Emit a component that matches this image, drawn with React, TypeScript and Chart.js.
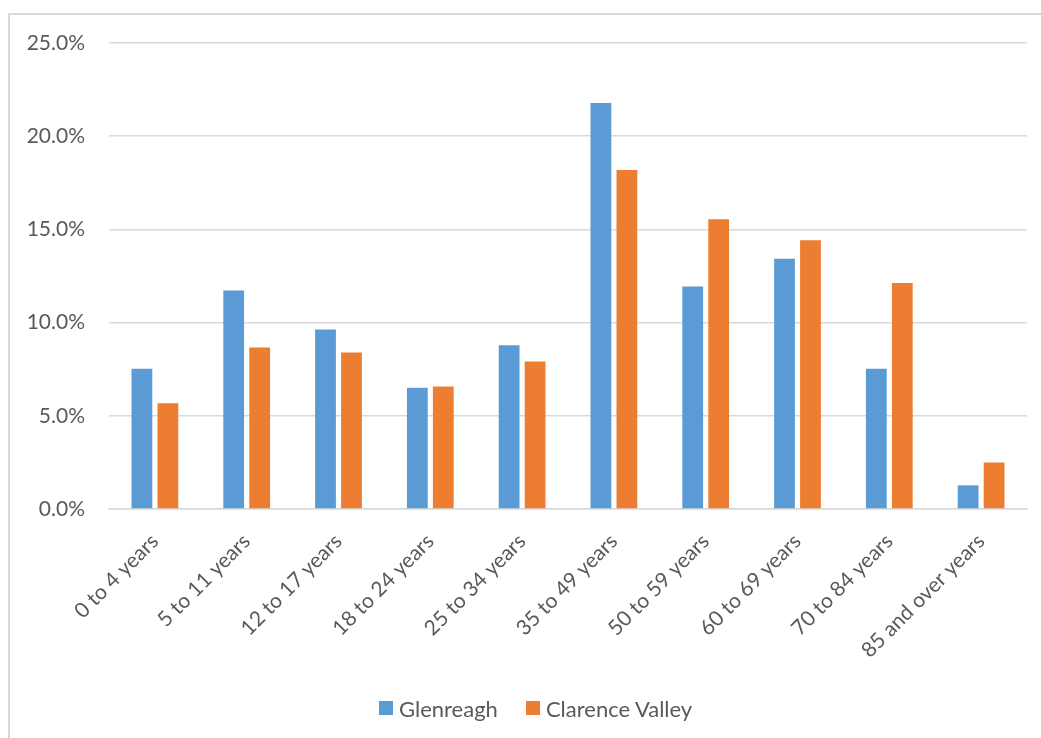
import React, { useEffect, useRef } from "react";
import { Chart, registerables } from "chart.js";

Chart.register(...registerables);

// Age groups and population share (%) for each area
const ageGroups = [
  "0 to 4 years",
  "5 to 11 years",
  "12 to 17 years",
  "18 to 24 years",
  "25 to 34 years",
  "35 to 49 years",
  "50 to 59 years",
  "60 to 69 years",
  "70 to 84 years",
  "85 and over years",
];
const glenreagh = [7.53, 11.72, 9.63, 6.5, 8.79, 21.78, 11.93, 13.42, 7.53, 1.27];
const clarenceValley = [5.67, 8.66, 8.39, 6.57, 7.91, 18.18, 15.55, 14.42, 12.13, 2.5];

const seriesNames = ["Glenreagh", "Clarence Valley"];
const seriesColors = ["#5B9BD5", "#ED7D31"];

const yMin = 0;
const yMax = 25;
const yStep = 5;

const FONT = "Lato, 'Open Sans', sans-serif";
const TEXT = "#595959";
const GRID = "#D9D9D9";

export default function App() {
  const ref = useRef<HTMLCanvasElement | null>(null);

  useEffect(() => {
    if (!ref.current) return;
    const chart = new Chart(ref.current, {
      type: "bar",
      data: {
        labels: ageGroups,
        datasets: [glenreagh, clarenceValley].map((values, i) => ({
          label: seriesNames[i],
          data: values,
          backgroundColor: seriesColors[i],
          categoryPercentage: 0.566,
          barPercentage: 0.8,
        })),
      },
      options: {
        responsive: false,
        animation: false,
        layout: { padding: { top: 43, left: 0, right: 14, bottom: 0 } },
        plugins: {
          tooltip: { enabled: false },
          legend: { display: false },
        },
        scales: {
          x: {
            grid: { display: false },
            border: { display: true, color: GRID, width: 1.5 },
            ticks: {
              color: TEXT,
              font: { family: FONT, size: 21 },
              maxRotation: 45,
              minRotation: 45,
              padding: 12,
              autoSkip: false,
            },
            afterFit: (scale: any) => {
              scale.height = 229;
            },
          },
          y: {
            min: yMin,
            max: yMax,
            border: { display: false },
            grid: { color: GRID, lineWidth: 1.5, drawTicks: false },
            ticks: {
              stepSize: yStep,
              color: TEXT,
              padding: 24,
              font: { family: FONT, size: 21 },
              callback: (v: any) => Number(v).toFixed(1) + "%",
            },
            afterFit: (scale: any) => {
              scale.width = 109;
            },
          },
        },
      },
    });
    return () => chart.destroy();
  }, []);

  return (
    <div
      style={{
        position: "fixed",
        left: 0,
        top: 0,
        width: 1041,
        height: 738,
        background: "#fff",
      }}
    >
      <div
        style={{
          position: "absolute",
          left: 8,
          top: 13,
          right: 0,
          bottom: 0,
          borderTop: `2px solid ${GRID}`,
          borderLeft: `2px solid ${GRID}`,
        }}
      />
      <canvas
        ref={ref}
        width={1041}
        height={738}
        style={{ position: "absolute", left: 0, top: 0 }}
      />
      <div
        style={{
          position: "absolute",
          left: 379,
          top: 694,
          height: 28,
          display: "flex",
          alignItems: "center",
          fontFamily: FONT,
          fontSize: 22,
          color: TEXT,
          whiteSpace: "nowrap",
        }}
      >
        {seriesNames.map((name, i) => (
          <div
            key={name}
            style={{
              display: "flex",
              alignItems: "center",
              marginRight: i === 0 ? 28 : 0,
            }}
          >
            <span
              style={{
                display: "inline-block",
                width: 14,
                height: 14,
                background: seriesColors[i],
                marginRight: 6,
              }}
            />
            <span>{name}</span>
          </div>
        ))}
      </div>
    </div>
  );
}
